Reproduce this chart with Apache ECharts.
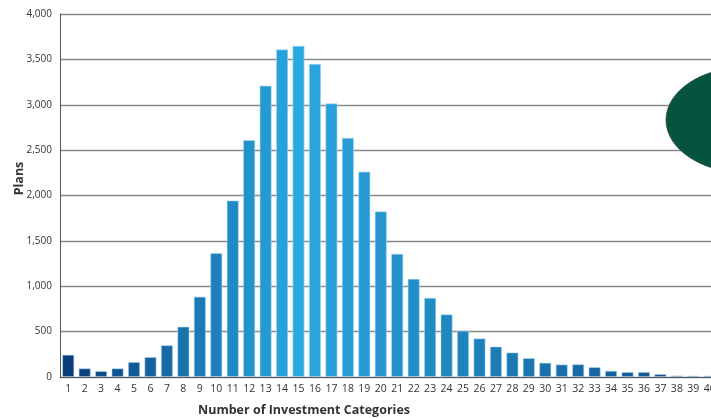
<!DOCTYPE html>
<html><head><meta charset="utf-8">
<script src="https://cdn.jsdelivr.net/npm/echarts@6/dist/echarts.min.js"></script>
<style>html,body{margin:0;padding:0;background:#fff}#c{width:711px;height:418px}</style>
</head><body><div id="c"></div>
<script>
const categories = ['1','2','3','4','5','6','7','8','9','10','11','12','13','14','15','16','17','18','19','20','21','22','23','24','25','26','27','28','29','30','31','32','33','34','35','36','37','38','39','40'];
const plans = [245,95,65,95,165,220,350,555,885,1365,1945,2610,3210,3610,3650,3450,3015,2635,2262,1825,1358,1082,872,690,510,425,335,270,208,157,138,140,108,68,55,55,32,16,15,15];
const yTicks = [0,500,1000,1500,2000,2500,3000,3500,4000];

const dark = [10,60,122], light = [42,168,224];
function mix(t){return 'rgb('+dark.map((d,k)=>Math.round(d+(light[k]-d)*t)).join(',')+')';}
const peak = 14;
const barData = plans.map((v,i)=>{
  let t = i<=peak ? i/peak : 1-(i-peak)/(categories.length-1-peak)*0.85;
  return {value:v, itemStyle:{color:mix(Math.max(0,Math.min(1,t)))}};
});

const chart = echarts.init(document.getElementById('c'));
chart.setOption({
  animation:false,
  grid:{left:60,right:-7,top:14,bottom:41,containLabel:false,outerBoundsMode:'none'},
  xAxis:{type:'category',data:categories,
    axisLine:{lineStyle:{color:'#555',width:1}},axisTick:{show:false},
    axisLabel:{color:'#333',fontFamily:'Open Sans',fontSize:10.5,margin:7,interval:0},
    name:'Number of Investment Categories',nameLocation:'middle',nameGap:27,nameMoveOverlap:false,
    nameTextStyle:{color:'#333',fontFamily:'Open Sans',fontWeight:'bold',fontSize:12.5,padding:[0,170,0,0]}},
  yAxis:{type:'value',min:0,max:4000,interval:500,
    axisLine:{show:true,lineStyle:{color:'#555',width:1}},axisTick:{show:false},
    splitLine:{lineStyle:{color:'#8a8a8a',width:1.3}},
    axisLabel:{color:'#333',fontFamily:'Open Sans',fontSize:10,margin:8,
      formatter:v=>yTicks.includes(v)?v.toLocaleString('en-US'):''},
    name:'Plans',nameLocation:'middle',nameGap:34,nameMoveOverlap:false,
    nameTextStyle:{color:'#333',fontFamily:'Open Sans',fontWeight:'bold',fontSize:12.5,padding:[0,0,0,34]}},
  series:[{type:'bar',data:barData,barWidth:'73%',
    itemStyle:{borderColor:'rgba(170,215,240,0.7)',borderWidth:0.8}}],
  graphic:[{type:'circle',shape:{cx:746,cy:120,r:80},scaleY:0.66,originX:746,originY:120,
    style:{fill:'#06543f',stroke:'#2d4d3c',lineWidth:1},z:100}]
});
</script></body></html>
